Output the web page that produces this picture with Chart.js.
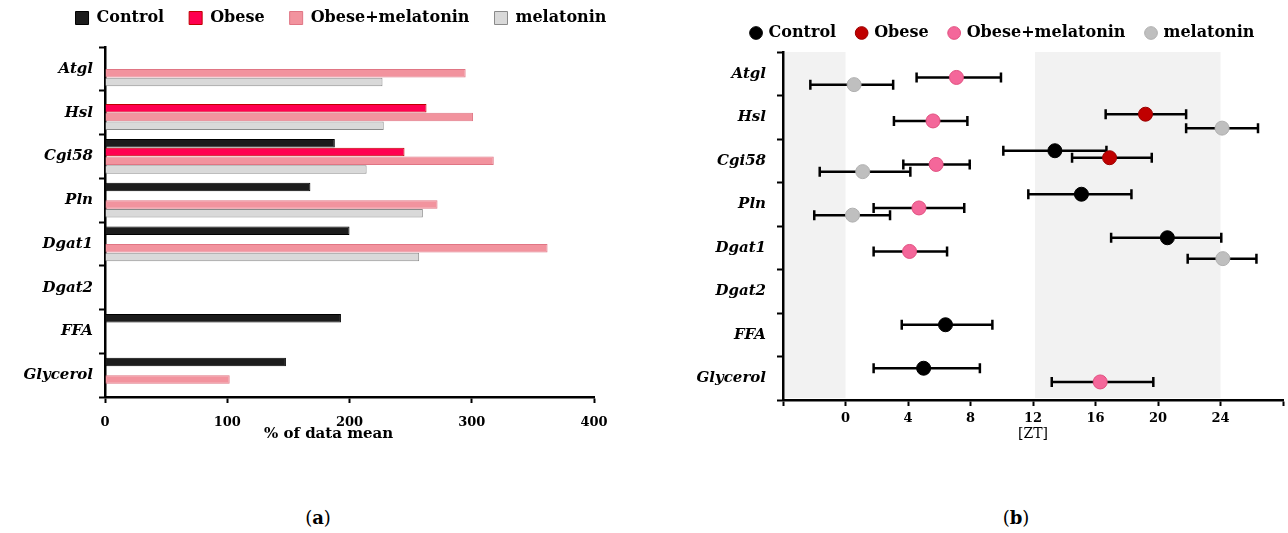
<!DOCTYPE html>
<html>
<head>
<meta charset="utf-8">
<script src="https://cdn.jsdelivr.net/npm/chart.js@4.4.1/dist/chart.umd.min.js"></script>
<style>
    html, body { margin: 0; padding: 0; background: #fff; overflow: hidden; }
    body { width: 1288px; height: 533px; position: relative; }
    canvas { position: absolute; }
    #chartA { left: 0; top: -15px; }
    #chartB { left: 680px; top: 4px; }
    .caption { position: absolute; top: 507px; font-family: 'DejaVu Serif', serif; font-size: 18px; color: #000; transform: translateX(-50%); }
</style>
</head>
<body>
<canvas id="chartA" width="682" height="458"></canvas>
<canvas id="chartB" width="646" height="439"></canvas>
<div class="caption" style="left:318px">(<b>a</b>)</div>
<div class="caption" style="left:1016px">(<b>b</b>)</div>
<script>
const categories = ["Atgl", "Hsl", "Cgi58", "Pln", "Dgat1", "Dgat2", "FFA", "Glycerol"];
const seriesNames = ["Control", "Obese", "Obese+melatonin", "melatonin"];

// (a) % of data mean
const controlPct = [null, null, 188, 168, 200, null, 193, 148];
const obesePct = [null, 263, 245, null, null, null, null, null];
const obeseMelPct = [295, 301, 318, 272, 362, null, null, 102];
const melatoninPct = [227, 228, 214, 260, 257, null, null, null];
const pctTicks = [0, 100, 200, 300, 400];

// (b) acrophase [ZT] with lower / upper limits
const controlZT = [null, null, 13.4, 15.1, 20.6, null, 6.4, 5.0];
const controlLo = [null, null, 10.1, 11.7, 17.0, null, 3.6, 1.8];
const controlHi = [null, null, 16.7, 18.3, 24.05, null, 9.4, 8.6];
const obeseZT = [null, 19.2, 16.9, null, null, null, null, null];
const obeseLo = [null, 16.65, 14.5, null, null, null, null, null];
const obeseHi = [null, 21.8, 19.6, null, null, null, null, null];
const obeseMelZT = [7.1, 5.6, 5.8, 4.7, 4.1, null, null, 16.3];
const obeseMelLo = [4.55, 3.1, 3.7, 1.8, 1.8, null, null, 13.2];
const obeseMelHi = [9.95, 7.8, 7.95, 7.6, 6.5, null, null, 19.7];
const melatoninZT = [0.55, 24.1, 1.1, 0.45, 24.15, null, null, null];
const melatoninLo = [-2.25, 21.8, -1.65, -2.0, 21.9, null, null, null];
const melatoninHi = [3.05, 26.4, 4.15, 2.85, 26.3, null, null, null];
const ztTicks = [-4, 0, 4, 8, 12, 16, 20, 24, 28];
const darkPhases = [[-4, 0], [12, 24]];

const serif = "'DejaVu Serif', 'Liberation Serif', serif";
Chart.defaults.color = "#000";
Chart.defaults.font.family = serif;

const legendHeight = h => ({
    id: "legendHeight",
    beforeInit(chart) {
        const fit = chart.legend.fit;
        chart.legend.fit = function () {
            fit.call(this);
            this.height = h;
        };
    }
});

// empty axis on the right, only keeps room so the legend can sit off-centre
const spacerAxis = (type, w) => ({
    type: type,
    position: "right",
    grid: { display: false, drawTicks: false },
    border: { display: false },
    ticks: { display: false },
    afterFit(s) { s.width = w; }
});

// ---------- (a) ----------
const barColors = [
    { bg: "#1c1c1c", border: "#000000" },
    { bg: "#ff0050", border: "#c00000" },
    { bg: "#f2939e", border: "#e07584" },
    { bg: "#d9d9d9", border: "#8a8a8a" }
];
const pctSeries = [controlPct, obesePct, obeseMelPct, melatoninPct];

new Chart("chartA", {
    type: "bar",
    data: {
        labels: categories,
        datasets: pctSeries.map((values, i) => ({
            label: seriesNames[i],
            data: values,
            backgroundColor: barColors[i].bg,
            borderColor: barColors[i].border,
            borderWidth: 1,
            barPercentage: 0.95,
            categoryPercentage: 0.8
        }))
    },
    options: {
        indexAxis: "y",
        responsive: false,
        animation: false,
        devicePixelRatio: 1,
        layout: { padding: 0 },
        scales: {
            y: {
                border: { color: "#000", width: 2.5 },
                grid: { drawOnChartArea: false, tickLength: 6, tickColor: "#000", tickWidth: 2 },
                ticks: { font: { size: 15, weight: "bold", style: "italic" }, padding: 6 },
                afterFit(s) { s.width = 105; }
            },
            yRight: spacerAxis("category", 88),
            x: {
                min: 0,
                max: 400,
                afterBuildTicks(s) { s.ticks = pctTicks.map(v => ({ value: v })); },
                border: { color: "#000", width: 2.5 },
                grid: { drawOnChartArea: false, tickLength: 6, tickColor: "#000", tickWidth: 2 },
                ticks: { font: { size: 13, weight: "bold" }, padding: 12, maxRotation: 0 },
                title: {
                    display: true,
                    text: "% of data mean        ",
                    font: { size: 15, weight: "bold" },
                    padding: { top: -6, bottom: 0 }
                },
                afterFit(s) { s.height = 46; }
            }
        },
        plugins: {
            legend: {
                position: "top",
                labels: {
                    boxWidth: 13,
                    boxHeight: 13,
                    padding: 25,
                    font: { size: 16, weight: "bold" }
                }
            },
            tooltip: { enabled: false }
        }
    },
    plugins: [legendHeight(62)]
});

// ---------- (b) ----------
const pointColors = [
    { bg: "#000000", border: "#000000" },
    { bg: "#c00000", border: "#9a0000" },
    { bg: "#f4679a", border: "#e0507f" },
    { bg: "#bfbfbf", border: "#b0b0b0" }
];
const ztSeries = [
    [controlZT, controlLo, controlHi],
    [obeseZT, obeseLo, obeseHi],
    [obeseMelZT, obeseMelLo, obeseMelHi],
    [melatoninZT, melatoninLo, melatoninHi]
];
// vertical shift of each group inside its row
const rowShift = [-0.23, -0.07, 0.085, 0.25];

const toPoints = (series, i) => {
    const [values, lo, hi] = series;
    const pts = [];
    values.forEach((v, j) => {
        if (v !== null) pts.push({ x: v, y: j + rowShift[i], lo: lo[j], hi: hi[j] });
    });
    return pts;
};

const shading = {
    id: "shading",
    beforeDatasetsDraw(chart) {
        const { ctx, chartArea, scales } = chart;
        ctx.save();
        ctx.fillStyle = "#f2f2f2";
        darkPhases.forEach(([a, b]) => {
            const x1 = scales.x.getPixelForValue(a);
            const x2 = scales.x.getPixelForValue(b);
            ctx.fillRect(x1 + 2, chartArea.top, x2 - x1 - 2, chartArea.bottom - chartArea.top - 2);
        });
        // error bars
        ctx.strokeStyle = "#000";
        ctx.lineWidth = 2.5;
        chart.data.datasets.forEach(ds => {
            ds.data.forEach(p => {
                const y = scales.y.getPixelForValue(p.y);
                const x1 = scales.x.getPixelForValue(p.lo);
                const x2 = scales.x.getPixelForValue(p.hi);
                ctx.beginPath();
                ctx.moveTo(x1, y);
                ctx.lineTo(x2, y);
                ctx.moveTo(x1, y - 5);
                ctx.lineTo(x1, y + 5);
                ctx.moveTo(x2, y - 5);
                ctx.lineTo(x2, y + 5);
                ctx.stroke();
            });
        });
        ctx.restore();
    }
};

const isRow = v => Math.abs(v - Math.round(v)) < 1e-6;

new Chart("chartB", {
    type: "scatter",
    data: {
        datasets: ztSeries.map((series, i) => ({
            label: seriesNames[i],
            data: toPoints(series, i),
            backgroundColor: pointColors[i].bg,
            borderColor: pointColors[i].border,
            borderWidth: 1,
            pointRadius: 7,
            pointHoverRadius: 7
        }))
    },
    options: {
        responsive: false,
        animation: false,
        devicePixelRatio: 1,
        layout: { padding: 0 },
        scales: {
            x: {
                type: "linear",
                min: -4,
                max: 28,
                afterBuildTicks(s) { s.ticks = ztTicks.map(v => ({ value: v })); },
                border: { color: "#000", width: 2.5 },
                grid: { drawOnChartArea: false, tickLength: 6, tickColor: "#000", tickWidth: 2 },
                ticks: {
                    font: { size: 13, weight: "bold" },
                    padding: 5,
                    maxRotation: 0,
                    callback: v => (v < 0 || v > 24) ? "" : v
                },
                title: {
                    display: true,
                    text: "[ZT]",
                    font: { size: 14 },
                    padding: { top: 1, bottom: 0 }
                },
                afterFit(s) { s.height = 43; }
            },
            y: {
                type: "linear",
                min: -0.5,
                max: 7.5,
                reverse: true,
                afterBuildTicks(s) {
                    const t = [];
                    for (let k = 0; k <= categories.length * 2; k++) t.push({ value: -0.5 + k * 0.5 });
                    s.ticks = t;
                },
                border: { color: "#000", width: 2.5 },
                grid: {
                    drawOnChartArea: false,
                    tickLength: 6,
                    tickWidth: 2,
                    tickColor: ctx => (ctx.tick && isRow(ctx.tick.value)) ? "rgba(0,0,0,0)" : "#000"
                },
                ticks: {
                    autoSkip: false,
                    font: { size: 15, weight: "bold", style: "italic" },
                    padding: 11,
                    callback: v => isRow(v) ? categories[Math.round(v)] : ""
                },
                afterFit(s) { s.width = 103; }
            },
            yRight: spacerAxis("linear", 43)
        },
        plugins: {
            legend: {
                position: "top",
                labels: {
                    usePointStyle: true,
                    pointStyle: "circle",
                    boxWidth: 9,
                    boxHeight: 9,
                    padding: 21,
                    font: { size: 16, weight: "bold" }
                }
            },
            tooltip: { enabled: false }
        }
    },
    plugins: [legendHeight(48), shading]
});
</script>
</body>
</html>
